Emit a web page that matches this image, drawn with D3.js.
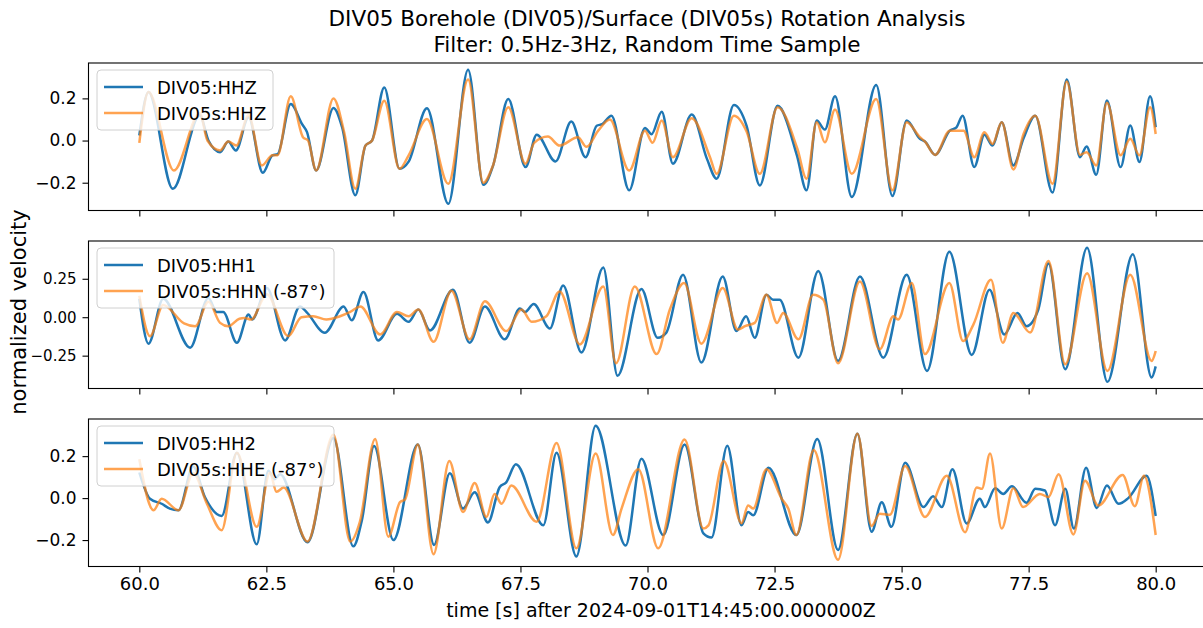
<!DOCTYPE html>
<html>
<head>
<meta charset="utf-8">
<script src="https://cdn.jsdelivr.net/npm/d3@7"></script>
<style>
  body { margin: 0; background: #fff; }
  text { font-family: "DejaVu Sans", sans-serif; fill: #000; }
</style>
</head>
<body>
<script>

// [time (s), normalized velocity]
var hhz = [[60.00,0.024],[60.18,0.23],[60.66,-0.229],[61.19,0.12],[61.36,0.0],[61.59,-0.055],[61.75,-0.005],[61.90,-0.047],[62.15,0.11],[62.43,-0.153],[62.62,-0.07],[62.72,-0.065],[62.98,0.173],[63.20,0.079],[63.30,0.04],[63.48,-0.142],[63.82,0.154],[63.99,0.063],[64.25,-0.26],[64.45,-0.024],[64.58,0.0],[64.82,0.252],[65.12,-0.134],[65.30,-0.10],[65.66,0.153],[66.08,-0.30],[66.47,0.336],[66.77,-0.21],[66.96,-0.12],[67.26,0.197],[67.60,-0.126],[67.82,0.028],[68.19,-0.099],[68.50,0.09],[68.78,-0.079],[69.00,0.07],[69.11,0.078],[69.29,0.118],[69.64,-0.236],[69.95,0.06],[70.08,0.03],[70.28,0.137],[70.50,-0.11],[70.87,0.123],[71.17,-0.087],[71.36,-0.181],[71.70,0.169],[71.95,0.07],[72.21,-0.213],[72.56,0.165],[72.94,-0.07],[73.13,-0.236],[73.33,0.095],[73.49,0.052],[73.69,0.21],[74.02,-0.268],[74.50,0.263],[74.82,-0.263],[75.10,0.095],[75.36,0.008],[75.46,-0.005],[75.66,-0.068],[75.95,0.047],[76.08,0.063],[76.20,0.118],[76.43,-0.126],[76.63,0.028],[76.79,-0.024],[76.97,0.087],[77.20,-0.118],[77.40,0.011],[77.63,0.118],[77.97,-0.247],[78.25,0.29],[78.51,-0.079],[78.64,-0.028],[78.83,-0.162],[79.04,0.19],[79.31,-0.126],[79.50,0.071],[79.68,-0.102],[79.89,0.21],[80.00,0.063]];
var hhzS = [[60.00,-0.011],[60.18,0.23],[60.68,-0.142],[61.19,0.13],[61.34,0.0],[61.59,-0.047],[61.75,-0.005],[61.91,-0.024],[62.15,0.12],[62.41,-0.118],[62.62,-0.07],[62.72,-0.07],[62.98,0.21],[63.22,0.016],[63.32,0.0],[63.48,-0.142],[63.82,0.20],[64.03,0.04],[64.25,-0.229],[64.45,-0.024],[64.58,0.0],[64.82,0.189],[65.12,-0.134],[65.30,-0.07],[65.66,0.102],[66.08,-0.205],[66.47,0.29],[66.77,-0.20],[66.96,-0.118],[67.26,0.158],[67.60,-0.11],[67.77,-0.011],[68.04,0.019],[68.27,-0.024],[68.63,0.016],[68.80,-0.03],[69.03,0.047],[69.26,0.10],[69.64,-0.142],[69.95,0.047],[70.10,-0.011],[70.28,0.095],[70.50,-0.079],[70.87,0.106],[71.23,-0.079],[71.36,-0.158],[71.70,0.118],[71.95,0.043],[72.21,-0.158],[72.56,0.158],[72.95,-0.04],[73.13,-0.181],[73.33,0.087],[73.49,-0.008],[73.69,0.147],[74.02,-0.158],[74.50,0.197],[74.82,-0.236],[75.10,0.087],[75.36,0.016],[75.46,-0.005],[75.66,-0.068],[75.95,0.047],[76.08,0.047],[76.22,0.047],[76.43,-0.079],[76.63,0.039],[76.79,-0.016],[76.97,0.087],[77.20,-0.137],[77.40,0.031],[77.63,0.118],[77.97,-0.205],[78.25,0.28],[78.51,-0.068],[78.64,-0.055],[78.83,-0.118],[79.04,0.179],[79.31,-0.07],[79.50,0.008],[79.68,-0.07],[79.89,0.158],[80.00,0.031]];

var hh1 = [[60.00,0.12],[60.18,-0.172],[60.47,0.12],[61.00,-0.198],[61.36,0.125],[61.52,0.034],[61.65,0.034],[61.92,-0.166],[62.15,0.017],[62.22,-0.015],[62.51,0.19],[62.87,-0.151],[63.16,0.07],[63.30,0.03],[63.65,-0.101],[64.02,0.07],[64.18,-0.02],[64.41,0.164],[64.70,-0.151],[65.07,0.022],[65.30,-0.03],[65.49,0.05],[65.72,-0.086],[66.17,0.179],[66.50,-0.166],[66.80,0.07],[67.19,-0.144],[67.49,0.056],[67.59,0.034],[67.76,0.086],[68.08,-0.073],[68.34,0.207],[68.70,-0.23],[69.13,0.323],[69.41,-0.381],[69.88,0.183],[70.20,-0.134],[70.37,-0.10],[70.70,0.276],[71.06,-0.295],[71.48,0.265],[71.75,-0.09],[71.94,0.006],[72.11,-0.134],[72.34,0.146],[72.47,0.114],[72.60,0.114],[72.97,-0.263],[73.36,0.301],[73.75,-0.284],[74.18,0.265],[74.64,-0.263],[75.10,0.276],[75.50,-0.349],[75.94,0.426],[76.38,-0.245],[76.73,0.179],[77.02,-0.112],[77.28,0.028],[77.46,-0.058],[77.69,0.05],[77.89,0.35],[78.22,-0.338],[78.65,0.452],[79.05,-0.42],[79.55,0.409],[79.92,-0.392],[80.00,-0.32]];
var hhn = [[60.00,0.14],[60.21,-0.123],[60.47,0.08],[60.88,-0.04],[61.10,-0.059],[61.36,0.10],[61.59,-0.037],[61.75,-0.059],[61.97,-0.01],[62.07,-0.005],[62.20,-0.015],[62.51,0.15],[62.93,-0.123],[63.19,0.0],[63.42,0.006],[63.68,-0.015],[63.95,0.006],[64.15,0.034],[64.35,0.07],[64.74,-0.112],[65.07,0.034],[65.30,0.006],[65.49,0.05],[65.79,-0.16],[66.14,0.172],[66.50,-0.144],[66.80,0.103],[67.22,-0.09],[67.52,0.05],[67.72,-0.03],[68.01,0.006],[68.27,0.168],[68.67,-0.177],[69.13,0.2],[69.38,-0.3],[69.75,0.2],[70.18,-0.24],[70.44,0.05],[70.72,0.222],[71.06,-0.172],[71.48,0.19],[71.78,-0.08],[71.92,-0.058],[72.11,-0.037],[72.34,0.146],[72.55,-0.037],[72.67,0.028],[72.97,-0.144],[73.26,0.146],[73.46,0.114],[73.75,-0.30],[74.18,0.232],[74.57,-0.209],[74.84,0.006],[74.93,-0.015],[75.20,0.222],[75.46,-0.24],[75.94,0.222],[76.21,-0.155],[76.41,-0.05],[76.76,0.243],[76.99,-0.166],[77.20,0.028],[77.53,-0.1],[77.89,0.366],[78.22,-0.306],[78.65,0.286],[79.05,-0.349],[79.50,0.276],[79.92,-0.284],[80.00,-0.22]];

var hh2 = [[60.00,0.122],[60.21,-0.003],[60.44,-0.027],[60.60,-0.05],[60.77,-0.058],[61.06,0.15],[61.29,0.005],[61.62,-0.085],[61.92,0.216],[62.31,-0.22],[62.54,0.13],[62.66,0.09],[62.77,0.114],[63.31,-0.21],[63.82,0.287],[64.21,-0.23],[64.38,-0.105],[64.62,0.248],[65.00,-0.2],[65.48,0.255],[65.80,-0.223],[66.11,0.119],[66.37,-0.05],[66.60,0.028],[66.86,-0.116],[67.09,0.052],[67.22,0.075],[67.41,0.161],[67.95,-0.129],[68.21,0.216],[68.60,-0.278],[68.98,0.345],[69.57,-0.226],[69.88,0.188],[70.31,-0.176],[70.73,0.255],[71.10,-0.168],[71.26,-0.188],[71.57,0.25],[71.85,-0.129],[71.98,-0.066],[72.08,-0.082],[72.38,0.145],[72.93,-0.176],[73.34,0.282],[73.75,-0.247],[74.13,0.307],[74.41,-0.16],[74.61,-0.02],[74.80,-0.137],[75.07,0.169],[75.43,-0.043],[75.62,0.009],[75.79,-0.043],[76.00,0.138],[76.28,-0.121],[76.54,-0.003],[76.64,-0.043],[76.84,0.047],[77.00,0.02],[77.17,0.056],[77.46,-0.022],[77.63,0.044],[77.82,0.036],[78.02,-0.129],[78.22,0.044],[78.39,-0.145],[78.63,0.145],[78.84,-0.047],[79.04,0.06],[79.27,-0.027],[79.46,0.0],[79.82,0.106],[80.00,-0.085]];
var hhe = [[60.00,0.185],[60.28,-0.058],[60.44,-0.003],[60.77,-0.058],[61.06,0.12],[61.33,-0.027],[61.62,-0.153],[61.92,0.216],[62.31,-0.137],[62.57,0.12],[62.70,0.03],[62.84,0.05],[63.31,-0.207],[63.82,0.302],[64.15,-0.207],[64.34,-0.113],[64.64,0.282],[64.90,-0.184],[65.13,-0.019],[65.23,-0.006],[65.48,0.255],[65.79,-0.267],[66.10,0.177],[66.37,-0.066],[66.60,0.072],[66.83,-0.09],[66.99,0.02],[67.13,-0.027],[67.32,0.06],[67.82,-0.113],[68.21,0.263],[68.60,-0.239],[68.98,0.212],[69.32,-0.176],[69.49,-0.05],[69.82,0.138],[70.21,-0.239],[70.73,0.279],[71.10,-0.145],[71.20,-0.13],[71.50,0.177],[71.85,-0.12],[71.98,-0.035],[72.08,-0.05],[72.34,0.138],[72.64,-0.003],[72.77,-0.05],[72.93,-0.176],[73.27,0.229],[73.75,-0.294],[74.13,0.307],[74.41,-0.133],[74.57,-0.074],[74.77,-0.079],[75.07,0.153],[75.46,-0.09],[75.89,0.106],[76.25,-0.163],[76.48,0.051],[76.58,0.044],[76.74,0.213],[76.97,-0.145],[77.20,0.047],[77.39,-0.043],[77.72,0.02],[77.89,0.005],[78.09,0.114],[78.38,-0.173],[78.61,0.083],[78.87,-0.035],[79.35,0.11],[79.59,-0.039],[79.77,0.106],[80.00,-0.176]];

var xTicks = [60, 62.5, 65, 67.5, 70, 72.5, 75, 77.5, 80];
var panelNames = [["DIV05:HHZ", "DIV05s:HHZ"], ["DIV05:HH1", "DIV05s:HHN (-87°)"], ["DIV05:HH2", "DIV05s:HHE (-87°)"]];
var yTicks = [[-0.2, 0, 0.2], [-0.25, 0, 0.25], [-0.2, 0, 0.2]];
var yFormats = [".1f", ".2f", ".1f"];

var width = 1203, height = 628;
var left = 88.5, right = 1206.5;
var panelTop = [63, 241, 419];
var panelH = 147.5;
var blue = "#1f77b4", orange = "#ff7f0e";

var svg = d3.select("body").append("svg")
    .attr("width", width)
    .attr("height", height);

var x = d3.scaleLinear().domain([59, 81]).range([left, right]);

var series = [[hhz, hhzS], [hh1, hhn], [hh2, hhe]];

series.forEach(function (pair, i) {
  var top = panelTop[i], bottom = top + panelH;
  var all = pair[0].concat(pair[1]);
  var ext = d3.extent(all, function (d) { return d[1]; });
  var pad = (ext[1] - ext[0]) * 0.05;
  var y = d3.scaleLinear().domain([ext[0] - pad, ext[1] + pad]).range([bottom, top]);

  var g = svg.append("g");

  var line = d3.line()
      .x(function (d) { return x(d[0]); })
      .y(function (d) { return y(d[1]); })
      .curve(d3.curveMonotoneX);

  g.append("path").datum(pair[0])
      .attr("d", line)
      .attr("fill", "none")
      .attr("stroke", blue)
      .attr("stroke-width", 2.5);
  g.append("path").datum(pair[1])
      .attr("d", line)
      .attr("fill", "none")
      .attr("stroke", orange)
      .attr("stroke-opacity", 0.72)
      .attr("stroke-width", 2.5);

  // frame
  g.append("rect")
      .attr("x", left).attr("y", top)
      .attr("width", right - left).attr("height", panelH)
      .attr("fill", "none")
      .attr("stroke", "#000")
      .attr("stroke-width", 1.1);

  var xAxis = g.append("g")
      .attr("transform", "translate(0," + bottom + ")")
      .call(d3.axisBottom(x).tickValues(xTicks).tickSize(6).tickPadding(5)
        .tickFormat(i == 2 ? d3.format(".1f") : ""));
  xAxis.select(".domain").remove();
  xAxis.selectAll("text").attr("font-size", 18).attr("font-family", "DejaVu Sans");
  xAxis.selectAll("line").attr("stroke-width", 1.1);

  var yAxis = g.append("g")
      .attr("transform", "translate(" + left + ",0)")
      .call(d3.axisLeft(y).tickValues(yTicks[i]).tickSize(6).tickPadding(6)
        .tickFormat(function (d) { return d3.format(yFormats[i])(d).replace("-", "\u2212"); }));
  yAxis.select(".domain").remove();
  yAxis.selectAll("text").attr("font-size", i == 1 ? 15 : 17).attr("font-family", "DejaVu Sans");
  yAxis.selectAll("line").attr("stroke-width", 1.1);

  // legend
  var names = panelNames[i];
  var boxW = i == 0 ? 176 : 237;
  var lg = g.append("g").attr("transform", "translate(97," + (top + 7) + ")");
  lg.append("rect")
      .attr("width", boxW).attr("height", 60)
      .attr("rx", 4)
      .attr("fill", "#fff").attr("fill-opacity", 0.8)
      .attr("stroke", "#d0d0d0");
  names.forEach(function (n, k) {
    var ly = 17 + k * 26;
    lg.append("line")
        .attr("x1", 7).attr("x2", 46)
        .attr("y1", ly).attr("y2", ly)
        .attr("stroke", k == 0 ? blue : orange)
        .attr("stroke-opacity", k == 0 ? 1 : 0.72)
        .attr("stroke-width", 2.5);
    lg.append("text")
        .attr("x", 60).attr("y", ly + 6.5)
        .attr("font-size", 18)
        .text(n);
  });
});

svg.append("text")
    .attr("x", 647).attr("y", 26)
    .attr("text-anchor", "middle")
    .attr("font-size", 21.5)
    .text("DIV05 Borehole (DIV05)/Surface (DIV05s) Rotation Analysis");
svg.append("text")
    .attr("x", 647).attr("y", 52)
    .attr("text-anchor", "middle")
    .attr("font-size", 21.5)
    .text("Filter: 0.5Hz-3Hz, Random Time Sample");

svg.append("text")
    .attr("x", 661).attr("y", 617)
    .attr("text-anchor", "middle")
    .attr("font-size", 19)
    .text("time [s] after 2024-09-01T14:45:00.000000Z");

svg.append("text")
    .attr("transform", "translate(26,312) rotate(-90)")
    .attr("text-anchor", "middle")
    .attr("font-size", 21)
    .text("normalized velocity");

</script>
</body>
</html>
